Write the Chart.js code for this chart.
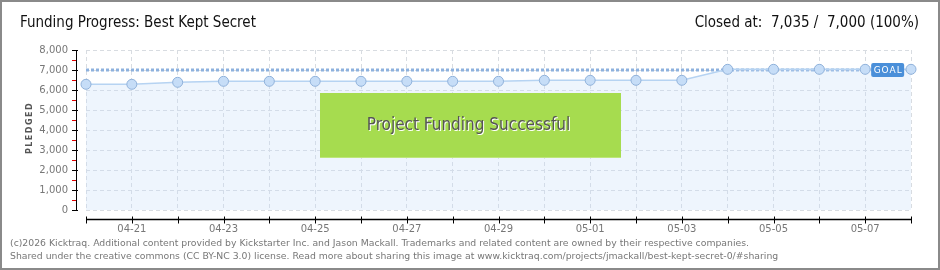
<!DOCTYPE html>
<html>
<head>
<meta charset="utf-8">
<script src="https://cdn.jsdelivr.net/npm/chart.js@4.4.1/dist/chart.umd.min.js"></script>
<style>
  html, body { margin: 0; padding: 0; background: #fff; }
  #wrap { position: relative; width: 940px; height: 270px; overflow: hidden; }
  #frame { position: absolute; left: 0; top: 0; width: 936px; height: 266px; border: 2px solid #8a8a8a; pointer-events: none; }
  canvas { position: absolute; left: 0; top: 0; }
  .txt { position: absolute; white-space: nowrap; color: #111; }
  #title { left: 20px; top: 13px; font: 15px "DejaVu Sans Condensed", "DejaVu Sans", sans-serif; }
  #closed { right: 21px; top: 13px; font: 15px "DejaVu Sans Condensed", "DejaVu Sans", sans-serif; }
  .foot { left: 10px; font: 9.3px "DejaVu Sans", sans-serif; color: #777; }
</style>
</head>
<body>
<div id="wrap">
  <canvas id="myChart" width="940" height="270"></canvas>
  <div class="txt" id="title">Funding Progress: Best Kept Secret</div>
  <div class="txt" id="closed">Closed at:&nbsp; 7,035 /&nbsp; 7,000 (100%)</div>
  <div class="txt foot" style="top:237px">(c)2026 Kicktraq. Additional content provided by Kickstarter Inc. and Jason Mackall. Trademarks and related content are owned by their respective companies.</div>
  <div class="txt foot" style="top:250px">Shared under the creative commons (CC BY-NC 3.0) license. Read more about sharing this image at www.kicktraq.com/projects/jmackall/best-kept-secret-0/#sharing</div>
  <div id="frame"></div>
</div>
<script>
// daily pledged totals
var days = ['04-20','04-21','04-22','04-23','04-24','04-25','04-26','04-27','04-28','04-29',
            '04-30','05-01','05-02','05-03','05-04','05-05','05-06','05-07','05-08'];
var pledged = [6285, 6285, 6385, 6435, 6435, 6435, 6435, 6435, 6435, 6435,
               6485, 6485, 6485, 6485, 7035, 7035, 7035, 7035, 7035];
var goal = 7000;
var yTicks = [0, 1000, 2000, 3000, 4000, 5000, 6000, 7000, 8000];

var goalLine = days.map(function () { return goal; });

var extras = {
  id: 'extras',
  afterDraw: function (chart) {
    var c = chart.ctx, a = chart.chartArea;
    var xs = chart.scales.x, ys = chart.scales.y;
    c.save();

    // y axis line + ticks
    c.strokeStyle = '#000';
    c.lineWidth = 1;
    c.beginPath();
    c.moveTo(76.5, ys.getPixelForValue(8000));
    c.lineTo(76.5, ys.getPixelForValue(0) + 1);
    c.stroke();
    for (var v = 0; v <= 8000; v += 500) {
      var py = Math.round(ys.getPixelForValue(v)) + 0.5;
      c.beginPath();
      if (v % 1000 === 0) {
        c.strokeStyle = '#000';
        c.moveTo(72, py); c.lineTo(78, py);
      } else {
        c.strokeStyle = '#e00000';
        c.moveTo(72, py); c.lineTo(76, py);
      }
      c.stroke();
    }

    // x axis line + ticks
    var ay = 219.5;
    c.strokeStyle = '#000';
    c.lineWidth = 1.5;
    c.beginPath();
    c.moveTo(xs.getPixelForValue(0), ay);
    c.lineTo(xs.getPixelForValue(days.length - 1), ay);
    c.stroke();
    c.lineWidth = 1;
    for (var i = 0; i < days.length; i++) {
      var px = Math.round(xs.getPixelForValue(i)) + 0.5;
      c.beginPath();
      c.moveTo(px, ay - 3); c.lineTo(px, ay + 4);
      c.stroke();
    }

    // PLEDGED label
    c.save();
    c.translate(30, 128);
    c.rotate(-Math.PI / 2);
    c.fillStyle = '#555';
    c.font = 'bold 8px "DejaVu Sans", sans-serif';
    c.letterSpacing = '1.5px';
    c.textAlign = 'center';
    c.textBaseline = 'middle';
    c.fillText('PLEDGED', 0, 0);
    c.restore();

    // funded banner
    var bx = 320, by = 93, bw = 301, bh = 65;
    c.fillStyle = '#a6dc4f';
    c.fillRect(bx, by, bw, bh);
    c.fillStyle = '#bde67a';
    c.fillRect(bx, by + bh - 1, bw, 1);
    c.font = '17px "DejaVu Sans Condensed", "DejaVu Sans", sans-serif';
    c.textAlign = 'center';
    c.textBaseline = 'middle';
    c.fillStyle = '#ffffff';
    c.fillText('Project Funding Successful', bx + bw / 2 - 1, by + bh / 2 + 1);
    c.fillStyle = '#555555';
    c.fillText('Project Funding Successful', bx + bw / 2 - 2, by + bh / 2);

    // GOAL tag
    var gy = ys.getPixelForValue(goal);
    var gx = xs.getPixelForValue(days.length - 2) + 6;
    c.fillStyle = '#4a8fd9';
    c.beginPath();
    c.roundRect(gx, gy - 7, 33, 14, 2);
    c.fill();
    c.fillStyle = '#ffffff';
    c.font = '9px "DejaVu Sans", sans-serif';
    c.letterSpacing = '1px';
    c.textAlign = 'center';
    c.fillText('GOAL', gx + 17, gy + 0.5);
    c.restore();
  }
};

var ctx = document.getElementById('myChart').getContext('2d');
var myChart = new Chart(ctx, {
  type: 'line',
  data: {
    labels: days,
    datasets: [{
      label: 'Pledged',
      data: pledged,
      borderColor: '#b6d3f2',
      borderWidth: 1.5,
      backgroundColor: 'rgba(198,222,248,0.3)',
      fill: 'origin',
      tension: 0,
      pointRadius: 5,
      pointBackgroundColor: '#c6ddf7',
      pointBorderColor: '#8fb1da',
      pointBorderWidth: 1,
      order: 2
    }, {
      label: 'Goal',
      data: goalLine,
      borderColor: '#8db1de',
      borderWidth: 3,
      borderDash: [3, 2],
      borderCapStyle: 'butt',
      pointRadius: 0,
      fill: false,
      order: 3
    }]
  },
  options: {
    responsive: false,
    animation: false,
    layout: { padding: { left: 0, right: 29, top: 50, bottom: 0 } },
    plugins: { legend: { display: false }, tooltip: { enabled: false } },
    scales: {
      x: {
        afterFit: function (s) { s.height = 60; },
        border: { display: false, dash: [4, 3] },
        grid: { color: '#d8dce1', drawTicks: false },
        ticks: {
          autoSkip: false, maxRotation: 0, padding: 13,
          color: '#777', font: { family: 'DejaVu Sans', size: 10 },
          callback: function (v, i) { return i % 2 === 1 ? days[i] : ''; }
        }
      },
      y: {
        min: 0, max: 8000,
        afterFit: function (s) { s.width = 86; },
        afterBuildTicks: function (s) { s.ticks = yTicks.map(function (t) { return { value: t }; }); },
        border: { display: false, dash: [4, 3] },
        grid: { color: '#d8dce1', drawTicks: false },
        ticks: {
          padding: 18, color: '#777', font: { family: 'DejaVu Sans', size: 10 },
          callback: function (v) { return v.toLocaleString('en-US'); }
        }
      }
    }
  },
  plugins: [extras]
});
</script>
</body>
</html>
